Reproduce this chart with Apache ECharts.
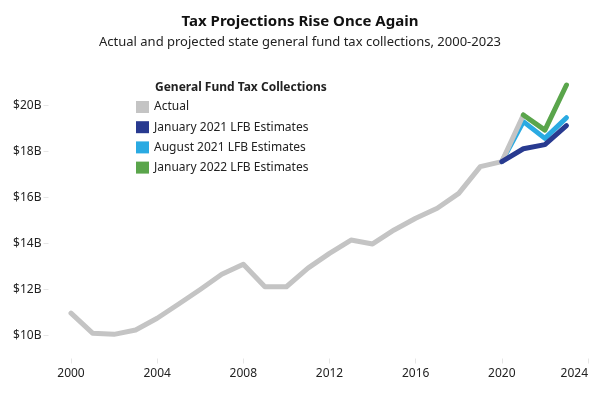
<!DOCTYPE html>
<html><head><meta charset="utf-8">
<script src="https://cdn.jsdelivr.net/npm/echarts@6/dist/echarts.min.js"></script>
<style>html,body{margin:0;padding:0;background:#fff}#c{width:600px;height:400px}</style>
</head><body><div id="c"></div>
<script>
const years = [2000,2001,2002,2003,2004,2005,2006,2007,2008,2009,2010,2011,2012,2013,2014,2015,2016,2017,2018,2019,2020,2021,2022,2023];
const actual = [10.97,10.10,10.05,10.24,10.75,11.37,12.0,12.66,13.1,12.12,12.12,12.93,13.57,14.15,13.98,14.59,15.1,15.53,16.18,17.34,17.56,19.59,null,null];
const jan2021 = [null,null,null,null,null,null,null,null,null,null,null,null,null,null,null,null,null,null,null,null,17.56,18.12,18.3,19.12];
const aug2021 = [null,null,null,null,null,null,null,null,null,null,null,null,null,null,null,null,null,null,null,null,17.56,19.3,18.57,19.47];
const jan2022 = [null,null,null,null,null,null,null,null,null,null,null,null,null,null,null,null,null,null,null,null,null,19.59,18.93,20.89];
const yTicks = [10,12,14,16,18,20];
const names = ['Actual','January 2021 LFB Estimates','August 2021 LFB Estimates','January 2022 LFB Estimates'];
const colors = ['#c4c4c4','#283a90','#2aaae2','#5aa54b'];

const font = '"Noto Sans", sans-serif';
function pairs(arr){ return years.map((y,i)=>[y,arr[i]]).filter(p=>p[1]!=null); }
function line(name, arr, color, z){
  return {name, type:'line', data:pairs(arr), symbol:'none', z,
    lineStyle:{width:5, color, join:'round', cap:'round'}, itemStyle:{color}};
}
const chart = echarts.init(document.getElementById('c'));
chart.setOption({
  animation:false,
  title:[
    {text:'Tax Projections Rise Once Again', left:'center', top:14, padding:0,
     textStyle:{fontFamily:font, fontSize:15, fontWeight:'bold', color:'#111'}},
    {text:'Actual and projected state general fund tax collections, 2000-2023', left:'center', top:36, padding:0,
     textStyle:{fontFamily:font, fontSize:13, fontWeight:'normal', color:'#222'}},
    {text:'General Fund Tax Collections', left:155, top:82, padding:0,
     textStyle:{fontFamily:font, fontSize:12, fontWeight:'bold', color:'#222'}}
  ],
  legend:{orient:'vertical', left:136, top:101, padding:0, icon:'rect', itemWidth:13, itemHeight:12, itemGap:8.2,
    data:names, textStyle:{fontFamily:font, fontSize:12, color:'#222'}},
  grid:{left:71, right:12, top:71, bottom:41.5, containLabel:false},
  xAxis:{type:'value', min:2000, max:2024, interval:4,
    axisLine:{show:false}, splitLine:{show:false},
    axisTick:{show:true, length:5, lineStyle:{color:'#e6e6e6'}},
    axisLabel:{margin:9, fontFamily:font, fontSize:12, color:'#222', alignMaxLabel:'right',
      formatter:v=>String(v)}},
  yAxis:{type:'value', min:9, max:21.5, offset:22.5,
    axisLine:{show:false}, splitLine:{show:false},
    axisTick:{show:true, length:5, customValues:yTicks, lineStyle:{color:'#e6e6e6'}},
    axisLabel:{margin:7, fontFamily:font, fontSize:12, color:'#222', customValues:yTicks,
      formatter:v=>'$'+v+'B'}},
  series:[
    line(names[2], aug2021, colors[2], 2),
    line(names[0], actual, colors[0], 3),
    line(names[3], jan2022, colors[3], 4),
    line(names[1], jan2021, colors[1], 5)
  ]
});
</script></body></html>
